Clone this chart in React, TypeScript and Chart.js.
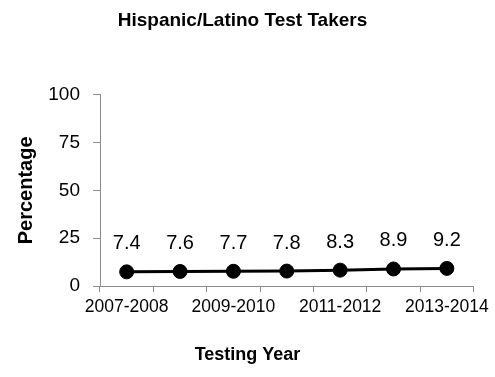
import React, { useEffect, useRef } from "react";
import { Chart, registerables } from "chart.js";

Chart.register(...registerables);

const years = ["2007-2008", "2008-2009", "2009-2010", "2010-2011", "2011-2012", "2012-2013", "2013-2014"];
const percentages = [7.4, 7.6, 7.7, 7.8, 8.3, 8.9, 9.2];
const yTicks = [0, 25, 50, 75, 100];
const xTitle = "Testing Year";

const FONT = "'Liberation Sans', Arial, sans-serif";

const valueLabels = {
  id: "valueLabels",
  afterDatasetsDraw(chart: any) {
    const ctx = chart.ctx;
    const meta = chart.getDatasetMeta(0);
    ctx.save();
    ctx.font = `20px ${FONT}`;
    ctx.fillStyle = "#000";
    ctx.textAlign = "center";
    ctx.textBaseline = "middle";
    meta.data.forEach((pt: any, i: number) => {
      ctx.fillText(String(percentages[i]), pt.x, pt.y - 28);
    });
    // x axis title centered on the whole canvas
    ctx.font = `bold 18px ${FONT}`;
    ctx.fillText(xTitle, chart.width / 2, chart.height - 22);
    ctx.restore();
  },
};

export default function App() {
  const ref = useRef<HTMLCanvasElement>(null);
  useEffect(() => {
    const chart = new Chart(ref.current!, {
      type: "line",
      data: {
        labels: years,
        datasets: [
          {
            data: percentages,
            borderColor: "#000",
            backgroundColor: "#000",
            borderWidth: 3,
            pointRadius: 7,
            pointBorderWidth: 1,
            pointBackgroundColor: "#000",
            pointBorderColor: "#000",
            tension: 0,
          },
        ],
      },
      options: {
        animation: false,
        responsive: false,
        layout: { padding: { left: 8, right: 18, top: 0, bottom: 0 } },
        plugins: {
          legend: { display: false },
          tooltip: { enabled: false },
          title: {
            display: true,
            text: "Hispanic/Latino Test Takers",
            color: "#000",
            font: { family: FONT, size: 19, weight: "bold" },
            padding: { top: 9, bottom: 63 },
          },
        },
        scales: {
          x: {
            offset: true,
            afterFit: (scale: any) => {
              scale.height = 91;
            },
            grid: { offset: true, drawOnChartArea: false, drawTicks: true, tickLength: 6, color: "#8c8c8c" },
            border: { color: "#8c8c8c", width: 1 },
            ticks: {
              autoSkip: false,
              maxRotation: 0,
              color: "#000",
              font: { family: FONT, size: 17.5 },
              padding: 5,
              callback: (_v: any, i: number) => (i % 2 === 0 ? years[i] : ""),
            },
          },
          y: {
            min: 0,
            max: 100,
            afterFit: (scale: any) => {
              scale.width = 92;
            },
            afterBuildTicks: (axis: any) => {
              axis.ticks = yTicks.map((v) => ({ value: v }));
            },
            grid: { drawOnChartArea: false, drawTicks: true, tickLength: 7, color: "#8c8c8c" },
            border: { color: "#8c8c8c", width: 1 },
            ticks: {
              color: "#000",
              font: { family: FONT, size: 19 },
              padding: 13,
            },
            title: {
              display: true,
              text: "Percentage",
              color: "#000",
              font: { family: FONT, size: 20, weight: "bold" },
              padding: { top: 6, bottom: 0 },
            },
          },
        },
      },
      plugins: [valueLabels],
    });
    return () => chart.destroy();
  }, []);
  return (
    <div style={{ position: "absolute", left: 0, top: 0, width: 495, height: 377, background: "#fff" }}>
      <canvas ref={ref} width={495} height={377} style={{ width: 495, height: 377 }} />
    </div>
  );
}
